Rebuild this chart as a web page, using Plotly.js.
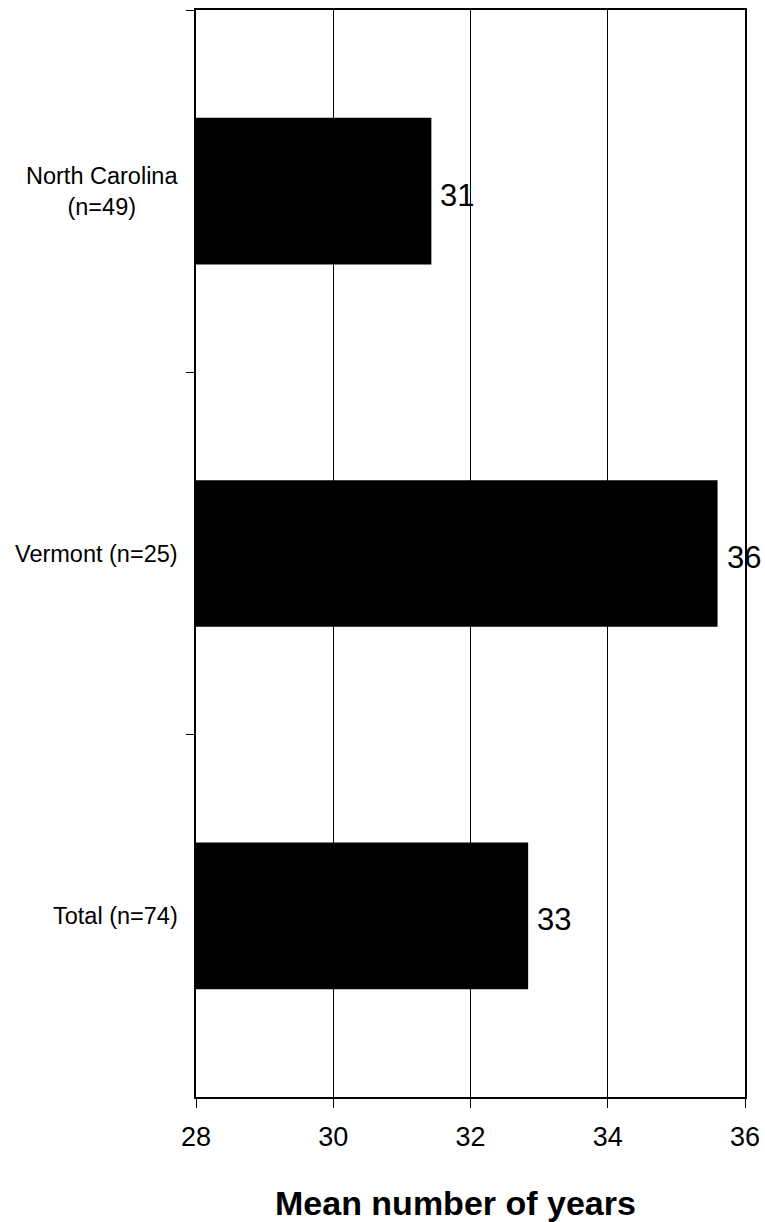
<!DOCTYPE html>
<html>
<head>
<meta charset="utf-8">
<script src="https://cdn.plot.ly/plotly-3.0.1.min.js"></script>
<style>html,body{margin:0;padding:0;background:#fff;}#chart{width:765px;height:1222px;}</style>
</head>
<body>
<div id="chart"></div>
<script>
// Data
var categories = ["North Carolina<br>(n=49)", "Vermont (n=25)", "Total (n=74)"];
var meanYears = [31.43, 35.6, 32.84];
var valueLabels = ["31", "36", "33"];
var xTickVals = [28, 30, 32, 34, 36];
var xTitle = "Mean number of years";

var FONT = "Liberation Sans, Arial, sans-serif";

var trace = {
  type: "bar",
  orientation: "h",
  y: categories,
  x: meanYears,
  width: 0.405,
  marker: {color: "#000000", line: {width: 0}},
  hoverinfo: "none",
  cliponaxis: false
};

var annotations = [];
categories.forEach(function (c, i) {
  annotations.push({
    xref: "paper", yref: "y", x: 0, y: c,
    text: c, showarrow: false,
    xanchor: "right", yanchor: "middle", align: "center",
    xshift: -16, yshift: 0,
    font: {family: FONT, size: 23.5, color: "#000"}
  });
  annotations.push({
    xref: "x", yref: "y", x: meanYears[i], y: c,
    text: valueLabels[i], showarrow: false,
    xanchor: "left", yanchor: "middle",
    xshift: 7, yshift: -4,
    font: {family: FONT, size: 31, color: "#000"}
  });
});
annotations.push({
  xref: "paper", yref: "paper", x: 0.472, y: -0.0975,
  text: "<b>" + xTitle + "</b>", showarrow: false,
  xanchor: "center", yanchor: "middle",
  font: {family: FONT, size: 34, color: "#000"}
});

var layout = {
  width: 765, height: 1222,
  margin: {l: 196, r: 20, t: 10, b: 125, pad: 0},
  paper_bgcolor: "#fff", plot_bgcolor: "#fff",
  showlegend: false,
  xaxis: {
    range: [28, 36],
    tickvals: xTickVals,
    ticks: "outside", ticklen: 9, tickwidth: 1, tickcolor: "#000",
    ticklabelstandoff: 6,
    showgrid: true, gridcolor: "#000", gridwidth: 1,
    zeroline: false,
    showline: true, linecolor: "#000", linewidth: 2, mirror: true,
    tickfont: {family: FONT, size: 27, color: "#000"},
    fixedrange: true
  },
  yaxis: {
    type: "category",
    autorange: "reversed",
    tickson: "boundaries",
    ticks: "outside", ticklen: 8, tickwidth: 1, tickcolor: "#000",
    showticklabels: false,
    showgrid: false, zeroline: false,
    showline: true, linecolor: "#000", linewidth: 2, mirror: true,
    fixedrange: true
  },
  annotations: annotations
};

Plotly.newPlot("chart", [trace], layout, {staticPlot: true, displayModeBar: false});
</script>
</body>
</html>
